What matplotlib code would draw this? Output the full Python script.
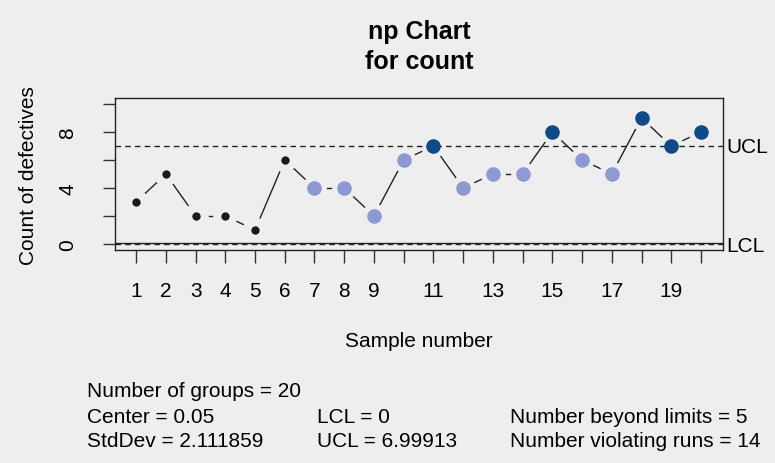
import numpy as np
import matplotlib
matplotlib.use("Agg")
import matplotlib.pyplot as plt

samples = list(range(1, 21))
counts = [3, 5, 2, 2, 1, 6, 4, 4, 2, 6, 7, 4, 5, 5, 8, 6, 5, 9, 7, 8]
# status: 0 normal, 1 violating run, 2 beyond limits
status = [0, 0, 0, 0, 0, 0, 1, 1, 1, 1, 2, 1, 1, 1, 2, 1, 1, 2, 2, 2]
center = 0.05
lcl = 0.0
ucl = 6.99913
xtick_labels = ["1", "2", "3", "4", "5", "6", "7", "8", "9", "", "11", "", "13", "", "15", "", "17", "", "19", ""]
ytick_vals = [0, 2, 4, 6, 8, 10]
ytick_labels = ["0", "", "4", "", "8", ""]

bg = "#EEEEEE"
plt.rcParams['font.family'] = ['Liberation Sans', 'DejaVu Sans']
fs = 15
fig = plt.figure(figsize=(7.75, 4.64), dpi=100, facecolor=bg)
ax = fig.add_axes([115/775, 1-251/464, 608/775, 152/464], facecolor=bg)
ax.set_xlim(0.29, 20.74)
ax.set_ylim(-0.43, 10.43)
for s in ax.spines.values():
    s.set_linewidth(1.0)
    s.set_color("#222222")

# control lines
ax.axhline(center, color="#222222", lw=1.0)
ax.axhline(lcl, color="#222222", lw=1.0, ls=(0, (4, 3)))
ax.axhline(ucl, color="#222222", lw=1.0, ls=(0, (4, 3)))

# connecting segments with gaps (type = "b")
fig.canvas.draw()
gap = 13.0
pts = ax.transData.transform(np.column_stack([samples, counts]))
inv = ax.transData.inverted()
for i in range(len(pts) - 1):
    p, q = pts[i], pts[i + 1]
    d = q - p
    L = np.hypot(*d)
    if L <= 2 * gap:
        continue
    u = d / L
    a = inv.transform(p + u * gap)
    b = inv.transform(q - u * gap)
    ax.plot([a[0], b[0]], [a[1], b[1]], color="#222222", lw=1.0)

colors = {0: "#1A1A1A", 1: "#8C99D2", 2: "#0E4A89"}
sizes = {0: 36, 1: 110, 2: 110}
for st in (0, 1, 2):
    xs = [x for x, s_ in zip(samples, status) if s_ == st]
    ys = [y for y, s_ in zip(counts, status) if s_ == st]
    ax.scatter(xs, ys, s=sizes[st], color=colors[st], zorder=3, linewidths=0)

ax.set_xticks(samples)
ax.set_xticklabels(xtick_labels, fontsize=fs)
ax.set_yticks(ytick_vals)
ax.set_yticklabels(ytick_labels, fontsize=fs, rotation=90, va="center")
ax.tick_params(axis="both", direction="out", length=9, width=1.0, color="#333333")
ax.tick_params(axis="x", pad=13)
ax.tick_params(axis="y", pad=18)

fig.text(419/775, 1-342/464, "Sample number", fontsize=fs, ha="center", va="center")
fig.text(28/775, 1-176/464, "Count of defectives", fontsize=fs, ha="center", va="center", rotation=90)

ax.text(1.005, ucl, "UCL", transform=ax.get_yaxis_transform(), fontsize=fs, va="center", ha="left", clip_on=False)
ax.text(1.005, lcl - 0.1, "LCL", transform=ax.get_yaxis_transform(), fontsize=fs, va="center", ha="left", clip_on=False)

fig.text(419/775, 1-32/464, "np Chart", fontsize=18, fontweight="bold", ha="center", va="center")
fig.text(419/775, 1-62/464, "for count", fontsize=18, fontweight="bold", ha="center", va="center")

fig.text(87/775, 1-392/464, "Number of groups = 20", fontsize=fs, va="center")
fig.text(87/775, 1-418/464, "Center = 0.05", fontsize=fs, va="center")
fig.text(87/775, 1-442/464, "StdDev = 2.111859", fontsize=fs, va="center")
fig.text(317/775, 1-418/464, "LCL = 0", fontsize=fs, va="center")
fig.text(317/775, 1-442/464, "UCL = 6.99913", fontsize=fs, va="center")
fig.text(510/775, 1-418/464, "Number beyond limits = 5", fontsize=fs, va="center")
fig.text(510/775, 1-442/464, "Number violating runs = 14", fontsize=fs, va="center")

fig.savefig("out.png", dpi=100, facecolor=bg)
